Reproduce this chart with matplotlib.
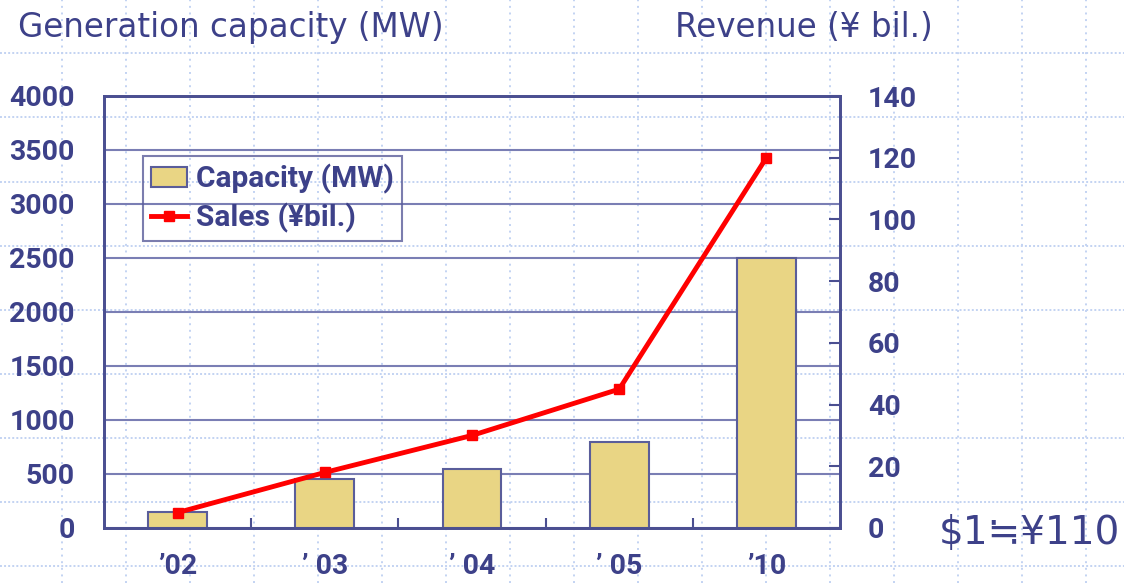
import matplotlib
matplotlib.use('Agg')
import matplotlib.pyplot as plt
from matplotlib.ticker import FixedLocator
import numpy as np

# ---- data ----
years = ["\u201902", "\u2019 03", "\u2019 04", "\u2019 05", "\u201910"]
capacity_mw = [150, 450, 550, 800, 2500]
sales_bil_yen = [5, 18, 30, 45, 120]
left_ticks = [0, 500, 1000, 1500, 2000, 2500, 3000, 3500, 4000]
right_ticks = [0, 20, 40, 60, 80, 100, 120, 140]
legend_labels = ["Capacity (MW)", "Sales (\u00a5bil.)"]
left_title = "Generation capacity (MW)"
right_title = "Revenue (\u00a5 bil.)"
note = "\\$1\u2252\u00a5110"

# ---- style ----
W, H = 1124, 583
TXT = '#3d4189'
SPINE = '#4b4f91'
GRID = '#7a7eb4'
DOT = '#c3d3f2'
BAR = '#e9d584'
BAREDGE = '#5a5d9a'

fig = plt.figure(figsize=(W / 100, H / 100), dpi=100)
fig.patch.set_facecolor('white')

# background dotted grid (slide pattern)
bg = fig.add_axes([0, 0, 1, 1], zorder=0)
bg.set_xlim(0, W)
bg.set_ylim(H, 0)
bg.axis('off')
for k in range(-1, 18):
    bg.axvline(62.3 + 63.95 * k, color=DOT, lw=1.4, ls=(0, (1, 2.4)))
for k in range(-1, 10):
    bg.axhline(53.3 + 64.1 * k, color=DOT, lw=1.4, ls=(0, (1, 1.1)))

ax = fig.add_axes([104 / W, 1 - 528 / H, 736 / W, 432 / H], zorder=1)
ax.patch.set_alpha(0)
x = np.arange(len(years))
bars = ax.bar(x, capacity_mw, width=0.4, color=BAR, edgecolor=BAREDGE,
              linewidth=1.5, zorder=3)
ax.set_xlim(-0.5, len(years) - 0.5)
ax.set_ylim(left_ticks[0], left_ticks[-1])
ax.set_yticks(left_ticks)
ax.set_xticks(x)
ax.set_xticklabels(years)
ax.xaxis.set_minor_locator(FixedLocator(x[:-1] + 0.5))
ax.yaxis.grid(True, color=GRID, lw=1.5)
ax.set_axisbelow(True)
ax.tick_params(axis='y', length=0, pad=21, labelcolor=TXT)
ax.tick_params(axis='x', which='major', length=0, pad=18, labelcolor=TXT)
ax.tick_params(axis='x', which='minor', direction='in', length=7.5,
               width=1.5, color=SPINE)
for lab in ax.get_yticklabels() + ax.get_xticklabels():
    lab.set_fontfamily('Roboto')
    lab.set_fontweight('bold')
    lab.set_fontsize(20.5)
for s in ax.spines.values():
    s.set_color(SPINE)
    s.set_linewidth(2)

ax2 = ax.twinx()
ax2.set_ylim(right_ticks[0], right_ticks[-1])
ax2.set_yticks(right_ticks)
line, = ax2.plot(x, sales_bil_yen, color='#ff0000', lw=3.5, marker='s',
                 ms=7, zorder=4)
ax2.tick_params(axis='y', direction='in', length=8, width=1.5, color=SPINE,
                pad=20, labelcolor=TXT)
for lab in ax2.get_yticklabels():
    lab.set_fontfamily('Roboto')
    lab.set_fontweight('bold')
    lab.set_fontsize(20.5)
for s in ax2.spines.values():
    s.set_color(SPINE)
    s.set_linewidth(2)

leg = ax2.legend([bars, line], legend_labels, loc='upper left',
                 bbox_to_anchor=(0.053, 0.861), borderaxespad=0,
                 frameon=True, fancybox=False, edgecolor=BAREDGE,
                 facecolor='none', framealpha=None,
                 prop=dict(family='Roboto', weight='bold', size=21.5),
                 labelcolor=TXT, handlelength=1.2, handleheight=0.66,
                 handletextpad=0.33, borderpad=0.26, labelspacing=0.3)
leg.get_frame().set_linewidth(1.5)

fig.text(18 / W, 1 - 37 / H, left_title, fontsize=23.5, family='DejaVu Sans',
         color=TXT, va='baseline', ha='left')
fig.text(675 / W, 1 - 37 / H, right_title, fontsize=23.5, family='DejaVu Sans',
         color=TXT, va='baseline', ha='left')
fig.text(939 / W, 1 - 544 / H, note, fontsize=28,
         family=['DejaVu Sans', 'Noto Sans CJK JP'],
         color=TXT, va='baseline', ha='left')

fig.savefig('out.png', dpi=100)
